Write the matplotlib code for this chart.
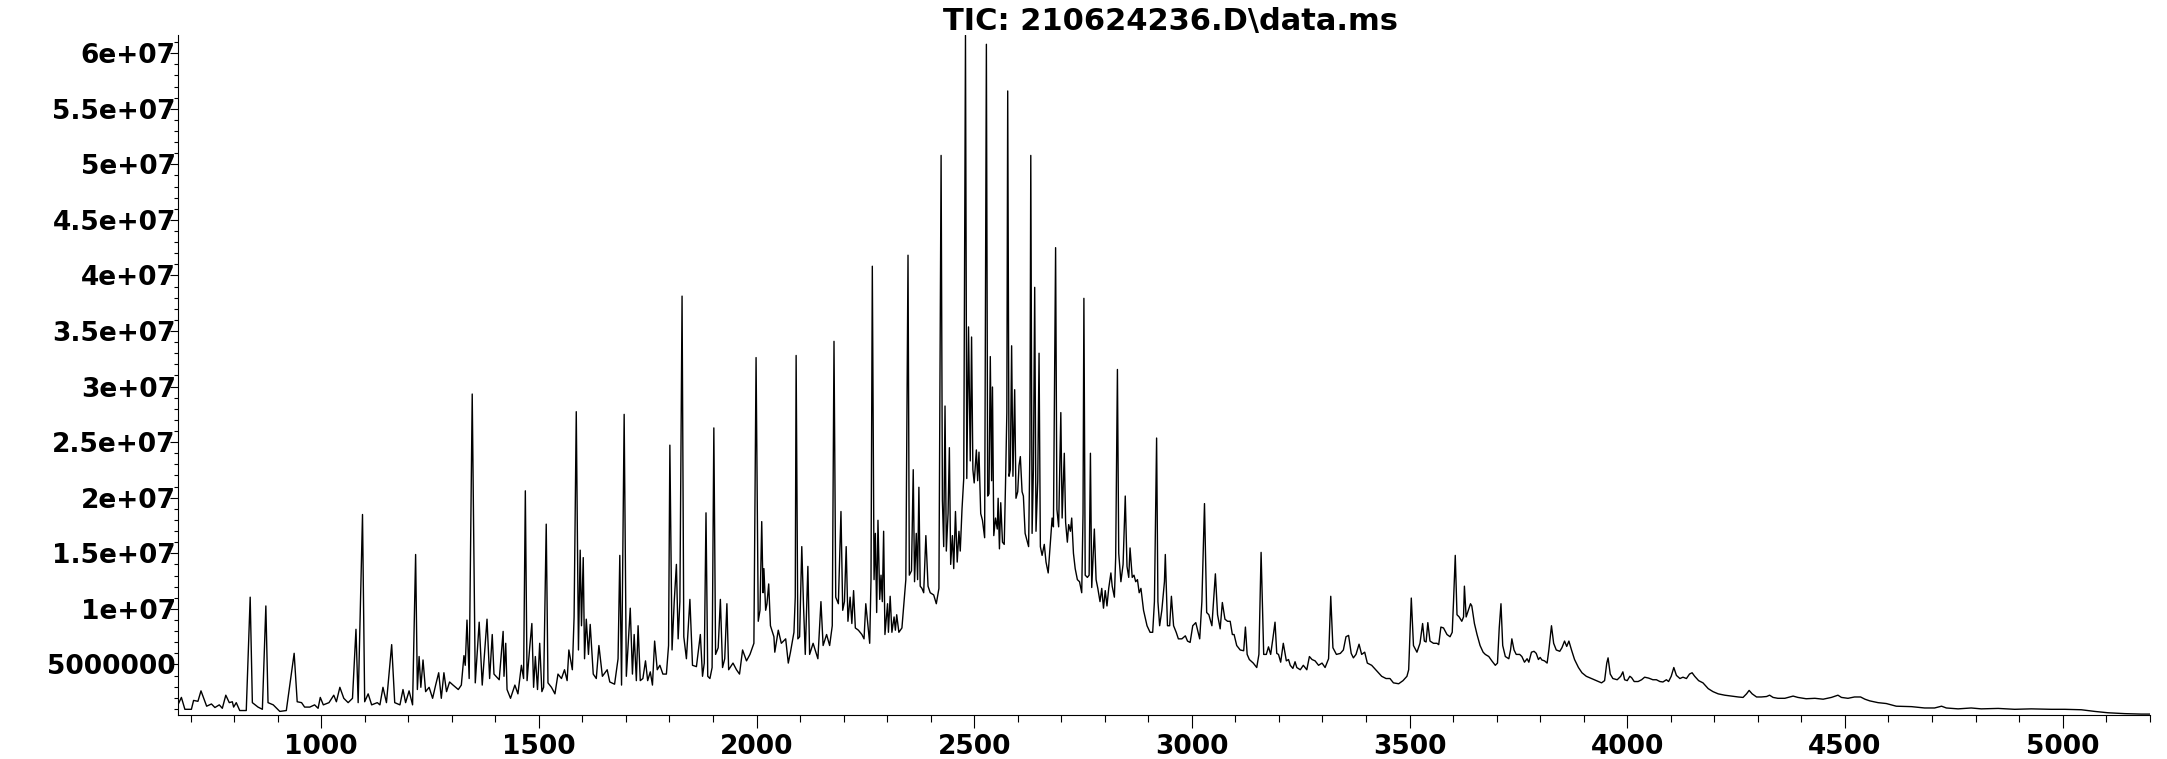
import matplotlib
matplotlib.use("Agg")
import matplotlib.pyplot as plt
from matplotlib.ticker import FixedLocator, MultipleLocator
import numpy as np

title = "TIC: 210624236.D\\data.ms"

# retention scan numbers, segment by segment
scan_a = [671, 679, 687, 702, 707, 717, 724, 737, 748, 756, 766, 773, 781, 789, 796, 799, 805, 813, 828,
          837, 842, 855, 865, 873, 878, 890, 905, 920, 932, 938, 945, 955, 962, 974, 985, 993, 998, 1005,
          1018, 1029, 1035, 1043, 1052, 1062, 1072, 1080, 1085, 1095, 1100, 1108, 1116, 1129, 1135, 1142,
          1150, 1162, 1169, 1181, 1188, 1194, 1202, 1210, 1217, 1221, 1225, 1229, 1234, 1240, 1248, 1256,
          1263, 1270, 1276, 1282, 1288, 1295, 1303, 1315, 1322, 1328, 1331, 1335, 1340, 1347, 1354, 1363,
          1370, 1381, 1387, 1393, 1397, 1409, 1418, 1420, 1424, 1427]
tic_a = [1.36, 2.03, 0.96, 0.96, 1.76, 1.68, 2.62, 1.24, 1.44, 1.12, 1.36, 1.05, 2.23, 1.56, 1.64, 1.16, 1.56,
         0.85, 0.85, 11.05, 1.56, 1.16, 0.96, 10.26, 1.56, 1.36, 0.77, 0.85, 4.33, 6.0, 1.64, 1.56, 1.16,
         1.16, 1.36, 1.05, 2.03, 1.36, 1.56, 2.23, 1.64, 2.94, 1.95, 1.56, 1.95, 8.16, 1.56, 18.49, 1.64,
         2.35, 1.36, 1.56, 1.36, 2.94, 1.56, 6.78, 1.56, 1.36, 2.74, 1.56, 2.62, 1.36, 14.89, 2.74, 5.71,
         2.94, 5.4, 2.55, 2.94, 1.95, 3.14, 4.25, 1.95, 4.25, 2.55, 3.42, 3.14, 2.74, 3.14, 5.79, 4.92,
         8.99, 3.73, 29.33, 3.34, 8.8, 3.14, 9.07, 3.73, 7.69, 4.13, 3.62, 7.97, 3.93, 6.9, 2.74]

scan_b = [1435, 1445, 1452, 1460, 1465, 1469, 1473, 1479, 1484, 1488, 1492, 1497, 1502, 1507, 1511, 1517,
          1521, 1529, 1537, 1544, 1552, 1559, 1565, 1569, 1577, 1581, 1586, 1591, 1595, 1598, 1602, 1605,
          1609, 1614, 1618, 1625, 1632, 1638, 1646, 1657, 1663, 1674, 1682, 1686, 1690, 1696, 1701, 1706,
          1710, 1715, 1719, 1724, 1728, 1733, 1739, 1745, 1750, 1756, 1761, 1766, 1772, 1778, 1785, 1793,
          1798, 1801, 1806, 1811, 1816, 1820, 1824, 1829, 1833, 1839, 1847, 1853, 1862, 1871, 1876, 1880,
          1884, 1888, 1893, 1898, 1902, 1906, 1912, 1917, 1922, 1927, 1932, 1936, 1946, 1954, 1961, 1968,
          1977, 1985, 1994, 1999, 2004, 2008, 2012, 2015, 2017, 2021, 2024, 2028, 2032, 2040, 2042, 2050,
          2057, 2067, 2073, 2078, 2086, 2089, 2091, 2095, 2099, 2104, 2108, 2112, 2118, 2122, 2130, 2141,
          2148, 2153, 2161, 2168, 2174, 2178, 2182]
tic_b = [1.95, 3.14, 2.35, 4.92, 3.73, 20.62, 3.54, 6.5, 8.68, 2.94, 5.71, 2.74, 6.9, 2.55, 2.94, 17.62,
         3.34, 2.94, 2.35, 4.13, 3.73, 4.52, 3.54, 6.3, 4.52, 9.27, 27.74, 6.3, 15.28, 8.48, 14.61, 5.51,
         9.07, 5.9, 8.6, 4.13, 3.73, 6.7, 3.93, 4.52, 3.42, 3.22, 5.51, 14.81, 3.14, 27.5, 3.93, 7.3,
         10.06, 4.13, 7.69, 3.54, 8.48, 3.54, 3.73, 5.32, 3.54, 4.33, 3.14, 7.1, 4.52, 4.92, 4.13, 4.13,
         6.7, 24.73, 6.3, 10.65, 14.0, 7.3, 10.65, 38.14, 7.49, 5.51, 10.85, 4.92, 4.8, 7.69, 3.93, 5.12,
         18.64, 3.93, 3.73, 4.72, 26.28, 5.9, 6.5, 10.85, 4.72, 5.51, 10.46, 4.52, 5.12, 4.52, 4.13, 6.3,
         5.32, 5.9, 6.9, 32.61, 8.88, 9.87, 17.85, 11.45, 13.62, 9.87, 10.46, 12.24, 8.48, 7.49, 6.1, 8.08,
         6.9, 7.3, 5.12, 6.1, 7.89, 11.05, 32.8, 7.3, 7.49, 15.6, 10.26, 5.9, 13.82, 5.9, 6.9, 5.51,
         10.65, 6.7, 7.69, 6.7, 8.48, 34.07, 11.05]

scan_c = [2188, 2194, 2198, 2202, 2206, 2210, 2215, 2219, 2223, 2227, 2234, 2242, 2247, 2251, 2256, 2260,
          2263, 2266, 2270, 2273, 2276, 2279, 2283, 2286, 2289, 2292, 2295, 2301, 2303, 2307, 2311, 2316,
          2319, 2322, 2327, 2334, 2339, 2343, 2348, 2351, 2356, 2360, 2363, 2367, 2370, 2373, 2376, 2380,
          2384, 2389, 2394, 2399, 2407, 2413, 2419, 2422, 2424, 2427, 2430, 2433, 2436, 2440, 2443, 2446,
          2450, 2453, 2457, 2461, 2465, 2468, 2472, 2476, 2480, 2483, 2487, 2491, 2494, 2497, 2500, 2505,
          2508, 2511, 2515, 2519, 2524, 2528, 2531, 2534, 2537, 2540, 2542, 2545, 2549, 2553, 2555, 2558,
          2561, 2565, 2569, 2572, 2575, 2577, 2580, 2583, 2586, 2589, 2593, 2596, 2600, 2603, 2606, 2610,
          2613, 2617, 2621, 2625, 2628, 2630, 2633, 2636, 2639, 2642, 2646, 2649, 2652, 2656, 2661, 2665,
          2670, 2674, 2679, 2682, 2687, 2690, 2694, 2699, 2702, 2707, 2710, 2714, 2717, 2721, 2724, 2728,
          2732, 2737, 2742, 2747, 2750, 2752, 2755, 2760, 2764, 2767, 2770, 2776, 2780, 2784, 2789, 2793,
          2797, 2801, 2805, 2809, 2814, 2817, 2822, 2825, 2829, 2832, 2837, 2842, 2847, 2851, 2855, 2858,
          2863, 2867, 2871, 2875, 2879, 2883, 2889, 2897, 2904, 2910, 2914, 2919, 2922, 2926, 2931, 2937]
tic_c = [10.46, 18.76, 9.87, 10.65, 15.6, 8.88, 11.05, 8.68, 11.64, 8.28, 8.08, 7.69, 7.3, 10.46, 8.48, 6.9,
         12.63, 40.83, 12.63, 16.79, 9.67, 17.97, 10.85, 13.03, 10.65, 16.98, 7.69, 10.46, 7.89, 11.13,
         7.89, 9.27, 8.08, 9.47, 7.89, 8.28, 10.65, 12.63, 41.82, 13.03, 13.43, 22.52, 12.44, 16.79, 12.63,
         20.94, 12.04, 11.84, 11.45, 16.59, 12.04, 11.45, 11.25, 10.46, 11.84, 34.4, 50.8, 19.75, 15.6,
         28.25, 15.2, 18.57, 24.5, 14.0, 16.59, 13.62, 18.76, 14.21, 16.98, 15.2, 18.96, 21.73, 61.6,
         21.73, 35.37, 23.31, 34.46, 22.52, 21.33, 24.3, 21.53, 24.1, 18.57, 17.97, 16.4, 60.8, 20.15,
         20.35, 32.7, 21.53, 29.96, 16.59, 18.17, 17.18, 19.95, 15.4, 19.55, 16.0, 15.8, 21.33, 27.66,
         56.6, 21.93, 22.52, 33.67, 21.93, 29.72, 19.95, 20.54, 22.9, 23.7, 20.54, 20.15, 16.79, 16.19,
         15.6, 24.5, 50.8, 16.79, 22.52, 38.93, 16.98, 21.53, 33.0, 15.6, 14.81, 15.8, 14.21, 13.23, 15.4,
         18.17, 17.38, 42.5, 18.96, 17.38, 27.66, 18.17, 24.0, 17.78, 16.0, 17.58, 16.98, 18.17, 15.0,
         13.62, 12.63, 12.44, 11.45, 18.57, 37.94, 13.03, 12.83, 13.03, 24.0, 11.92, 17.18, 12.63, 11.84,
         10.65, 11.84, 10.06, 11.64, 10.26, 11.84, 13.23, 12.04, 11.05, 14.61, 31.54, 15.0, 12.44, 14.0,
         20.15, 13.82, 12.83, 15.48, 12.83, 13.03, 12.44, 12.63, 11.45, 11.84, 9.87, 8.48, 7.89, 7.89,
         10.65, 25.37, 10.65, 8.48, 9.87, 12.44]

scan_d = [2939, 2944, 2949, 2953, 2958, 2964, 2969, 2977, 2985, 2990, 2996, 3002, 3009, 3018, 3023, 3029,
          3034, 3039, 3046, 3054, 3059, 3065, 3070, 3076, 3082, 3088, 3093, 3097, 3103, 3111, 3119, 3123,
          3127, 3132, 3141, 3149, 3154, 3159, 3165, 3171, 3176, 3181, 3186, 3191, 3195, 3199, 3204, 3210,
          3217, 3222, 3226, 3232, 3237, 3241, 3249, 3256, 3264, 3270, 3276, 3283, 3291, 3299, 3306, 3314,
          3319, 3324, 3332, 3341, 3348, 3354, 3360, 3366, 3371, 3377, 3384, 3390, 3397, 3403, 3413, 3425,
          3436, 3446, 3455, 3463, 3475, 3485, 3494, 3498, 3504, 3509, 3517, 3524, 3530, 3534, 3538, 3542,
          3547, 3555, 3563, 3567, 3572, 3578, 3586, 3593, 3598, 3601, 3605, 3609, 3614, 3620, 3624, 3626,
          3630, 3635, 3640, 3643, 3649, 3655, 3662, 3669, 3674, 3682, 3689, 3697]
tic_d = [14.89, 8.48, 8.48, 11.13, 8.48, 7.89, 7.3, 7.3, 7.57, 7.1, 6.98, 8.48, 8.76, 7.3, 10.65, 19.47,
         9.67, 9.47, 8.48, 13.15, 9.47, 8.2, 10.57, 9.07, 8.88, 8.88, 7.69, 7.69, 6.7, 6.3, 6.23, 8.36,
         5.9, 5.44, 5.12, 4.72, 5.9, 15.08, 5.9, 5.9, 6.58, 5.9, 7.3, 8.8, 5.99, 5.9, 5.2, 6.9, 5.32, 5.44,
         4.92, 4.64, 5.24, 4.72, 4.52, 4.92, 4.52, 5.71, 5.44, 5.32, 4.92, 5.12, 4.72, 5.51, 11.13, 6.5,
         5.9, 5.99, 6.3, 7.49, 7.61, 5.99, 5.59, 5.9, 6.82, 5.9, 6.1, 5.12, 4.92, 4.4, 3.93, 3.73, 3.73,
         3.34, 3.26, 3.54, 3.93, 4.52, 10.97, 6.7, 6.1, 6.9, 8.68, 7.1, 7.02, 8.76, 7.1, 6.9, 6.9, 6.78,
         8.36, 8.28, 7.69, 7.49, 7.89, 10.65, 14.81, 9.47, 9.27, 8.88, 9.27, 12.04, 9.27, 9.87, 10.46,
         10.26, 8.68, 7.69, 6.7, 6.1, 5.9, 5.71, 5.32, 4.92]

scan_e = [3702, 3706, 3710, 3714, 3720, 3728, 3732, 3735, 3740, 3745, 3753, 3758, 3764, 3770, 3774, 3780,
          3786, 3791, 3796, 3800, 3804, 3810, 3816, 3820, 3826, 3831, 3837, 3845, 3850, 3856, 3861, 3866,
          3872, 3879, 3888, 3896, 3906, 3918, 3929, 3941, 3948, 3953, 3956, 3961, 3967, 3977, 3985, 3990,
          3994, 4000, 4006, 4010, 4016, 4025, 4033, 4040, 4049, 4059, 4067, 4075, 4082, 4090, 4095, 4101,
          4107, 4113, 4121, 4128, 4136, 4143, 4149, 4155, 4164, 4174, 4186, 4197, 4209, 4224, 4239, 4255,
          4266, 4274, 4280, 4287, 4297, 4308, 4320, 4327, 4335, 4346, 4362, 4381, 4392, 4411, 4431, 4450]
tic_e = [5.12, 8.28, 10.46, 6.7, 5.71, 5.51, 6.3, 7.3, 6.3, 5.9, 5.9, 5.71, 5.2, 5.51, 5.2, 6.1, 6.18, 5.99,
         5.44, 5.63, 5.4, 5.32, 5.12, 6.3, 8.48, 6.9, 6.3, 6.18, 6.5, 7.1, 6.62, 7.1, 6.3, 5.44, 4.72,
         4.25, 3.93, 3.73, 3.54, 3.34, 3.54, 5.12, 5.59, 4.13, 3.73, 3.62, 3.93, 4.33, 3.62, 3.54, 3.93,
         3.81, 3.46, 3.46, 3.62, 3.85, 3.77, 3.62, 3.62, 3.46, 3.42, 3.62, 3.46, 3.93, 4.72, 4.01, 3.73,
         3.85, 3.73, 4.13, 4.25, 3.93, 3.54, 3.34, 2.82, 2.55, 2.35, 2.23, 2.15, 2.07, 2.03, 2.35, 2.66,
         2.35, 2.07, 2.07, 2.11, 2.23, 2.03, 1.95, 1.95, 2.15, 2.03, 1.91, 1.95, 1.87]

scan_f = [4469, 4484, 4492, 4507, 4522, 4536, 4546, 4557, 4576, 4595, 4618, 4653, 4683, 4706, 4722, 4733,
          4760, 4790, 4813, 4852, 4890, 4928, 4974, 5005, 5043, 5074, 5104, 5143, 5181, 5201]
tic_f = [2.03, 2.23, 2.03, 1.95, 2.07, 2.07, 1.87, 1.72, 1.56, 1.48, 1.24, 1.2, 1.08, 1.08, 1.24, 1.08,
         1.0, 1.08, 1.0, 1.04, 0.96, 1.0, 0.96, 0.96, 0.92, 0.77, 0.65, 0.57, 0.53, 0.53]

x_major = [1000, 1500, 2000, 2500, 3000, 3500, 4000, 4500, 5000]
x_labels = ["1000", "1500", "2000", "2500", "3000", "3500", "4000", "4500", "5000"]
y_major = [5e6, 1e7, 1.5e7, 2e7, 2.5e7, 3e7, 3.5e7, 4e7, 4.5e7, 5e7, 5.5e7, 6e7]
y_labels = ["5000000", "1e+07", "1.5e+07", "2e+07", "2.5e+07", "3e+07", "3.5e+07", "4e+07",
            "4.5e+07", "5e+07", "5.5e+07", "6e+07"]

scan = scan_a + scan_b + scan_c + scan_d + scan_e + scan_f
tic = np.array(tic_a + tic_b + tic_c + tic_d + tic_e + tic_f) * 1e6
assert len(scan) == len(tic)

plt.rcParams['font.family'] = ['DejaVu Sans']
plt.rcParams['font.weight'] = 'bold'

fig = plt.figure(figsize=(21.67, 7.59), dpi=100)
ax = fig.add_axes([0.0821, 0.058, 0.9101, 0.8961])

ax.plot(scan, tic, color='black', linewidth=1.0)

ax.set_xlim(671, 5201)
ax.set_ylim(0.45e6, 61.65e6)

ax.spines['top'].set_visible(False)
ax.spines['right'].set_visible(False)
ax.spines['left'].set_linewidth(0.8)
ax.spines['bottom'].set_linewidth(0.8)

ax.xaxis.set_major_locator(FixedLocator(x_major))
ax.set_xticklabels(x_labels)
ax.xaxis.set_minor_locator(MultipleLocator(100))
ax.yaxis.set_major_locator(FixedLocator(y_major))
ax.set_yticklabels(y_labels)
ax.yaxis.set_minor_locator(MultipleLocator(1e6))

ax.tick_params(axis='x', which='major', length=9.4, width=0.8, pad=4, labelsize=19)
ax.tick_params(axis='x', which='minor', length=5, width=0.8)
ax.tick_params(axis='y', which='major', length=6, width=0.8, pad=-4.5, labelsize=19)
ax.tick_params(axis='y', which='minor', length=3, width=0.8)

fig.text(0.54, 0.972, title, ha='center', va='center', fontsize=22, fontweight='bold')

fig.savefig('out.png', dpi=100)
